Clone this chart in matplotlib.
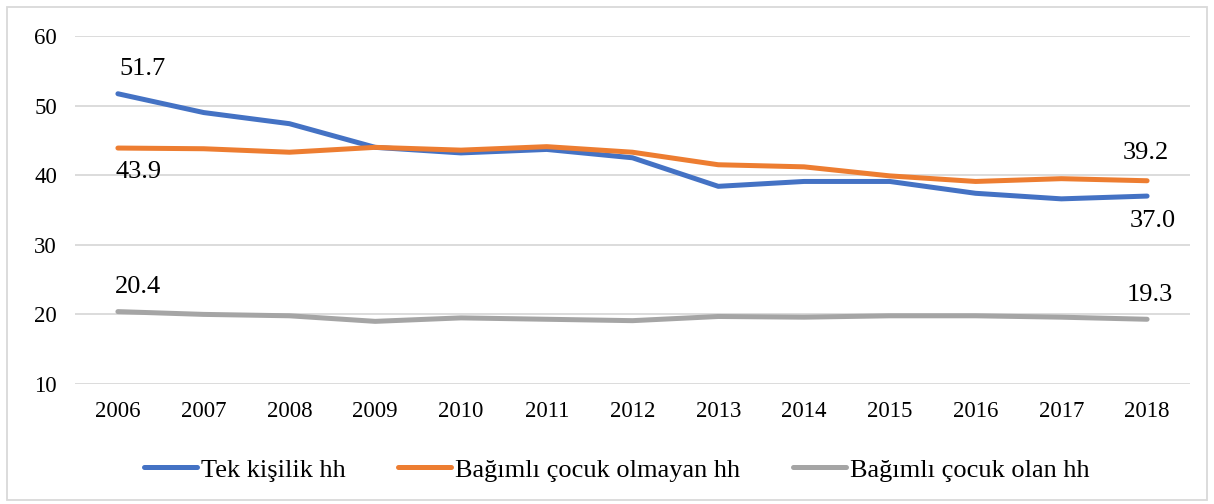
import matplotlib
matplotlib.use("Agg")
import matplotlib.pyplot as plt
from matplotlib.patches import Rectangle

plt.rcParams['font.family'] = ['Liberation Serif', 'DejaVu Serif']

years = ['2006', '2007', '2008', '2009', '2010', '2011', '2012',
         '2013', '2014', '2015', '2016', '2017', '2018']
tek = [51.7, 49.0, 47.4, 44.0, 43.2, 43.7, 42.5, 38.4, 39.1, 39.1, 37.4, 36.6, 37.0]
cocuksuz = [43.9, 43.8, 43.3, 44.0, 43.6, 44.1, 43.3, 41.5, 41.2, 39.9, 39.1, 39.5, 39.2]
cocuklu = [20.4, 20.0, 19.8, 19.0, 19.5, 19.3, 19.1, 19.7, 19.6, 19.8, 19.8, 19.6, 19.3]
names = ['Tek kişilik hh', 'Bağımlı çocuk olmayan hh', 'Bağımlı çocuk olan hh']
colors = ['#4472C4', '#ED7D31', '#A5A5A5']

fig = plt.figure(figsize=(12.14, 5.04), dpi=100)
ax = fig.add_axes([0.0618, 0.2381, 0.9184, 0.6905])

x = range(len(years))
for vals, name, c in zip([tek, cocuksuz, cocuklu], names, colors):
    ax.plot(x, vals, color=c, lw=3.6, label=name, solid_capstyle='round')

ax.set_xlim(-0.5, len(years) - 0.5)
ax.set_ylim(10, 60)
ax.set_yticks([10, 20, 30, 40, 50, 60])
ax.set_xticks(list(x))
ax.set_xticklabels(years)
ax.grid(axis='y', color='#D9D9D9', lw=1.3)
ax.set_axisbelow(True)
for s in ax.spines.values():
    s.set_visible(False)
ax.tick_params(length=0, labelsize=16.5, colors='black')
ax.tick_params(axis='x', pad=12)
ax.tick_params(axis='y', pad=13)

# data labels at first and last points
last = len(years) - 1
labels = [(0, tek[0], 25, 25), (0, cocuksuz[0], 21, -24), (0, cocuklu[0], 20, 25),
          (last, cocuksuz[-1], -1, 28), (last, tek[-1], 6, -25), (last, cocuklu[-1], 3, 24)]
for xi, v, dx, dy in labels:
    ax.annotate(f'{v:.1f}', (xi, v), xytext=(dx, dy), textcoords='offset pixels',
                ha='center', va='center', fontsize=19)

fig.legend(loc='center', bbox_to_anchor=(0.508, 0.0675), ncol=3, frameon=False,
           fontsize=19, handlelength=2.0, handletextpad=0.15, columnspacing=2.0)

fig.patches.append(Rectangle((0.006, 0.008), 0.988, 0.978, transform=fig.transFigure,
                             fill=False, edgecolor='#D9D9D9', lw=1.3))

fig.savefig('out.png', dpi=100)
